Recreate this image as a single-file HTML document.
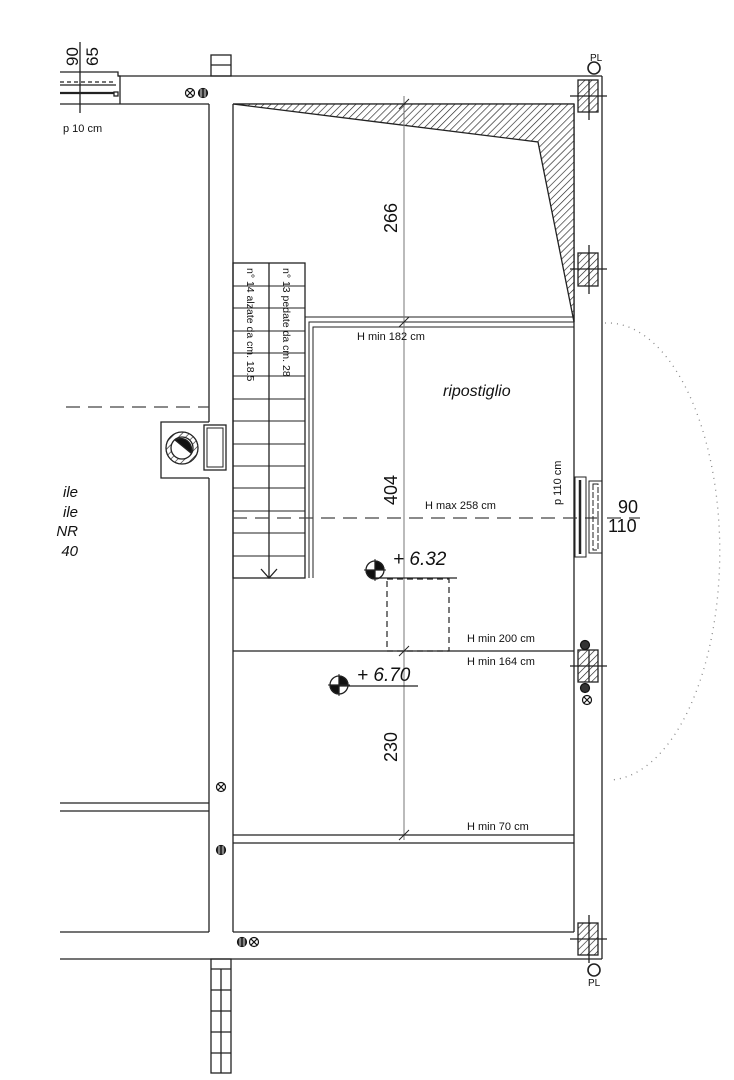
<!DOCTYPE html>
<html><head><meta charset="utf-8"><style>
html,body{margin:0;padding:0;background:#fff;}
svg{display:block;}
text{font-family:"Liberation Sans",sans-serif;fill:#111;}
</style></head><body>
<svg width="734" height="1080" viewBox="0 0 734 1080" xmlns="http://www.w3.org/2000/svg">
<defs>
<pattern id="h" width="5" height="5" patternUnits="userSpaceOnUse" patternTransform="rotate(45)">
<rect width="5" height="5" fill="#fff"/><line x1="0" y1="0" x2="0" y2="5" stroke="#222" stroke-width="1.3"/></pattern>
</defs>
<g stroke="#222" stroke-width="1.3" fill="none">
<line x1="118" y1="76" x2="602" y2="76"/>
<line x1="60" y1="104" x2="209" y2="104"/>
<line x1="233" y1="104" x2="574" y2="104"/>
<line x1="602" y1="76" x2="602" y2="959"/>
<line x1="574" y1="104" x2="574" y2="932"/>
<line x1="60" y1="932" x2="209" y2="932"/>
<line x1="233" y1="932" x2="574" y2="932"/>
<line x1="60" y1="959" x2="602" y2="959"/>
<line x1="209" y1="104" x2="209" y2="422"/>
<line x1="209" y1="478" x2="209" y2="932"/>
<line x1="233" y1="104" x2="233" y2="932"/>
<polyline points="60,72 118,72 118,76 120,76 120,104"/>
<line x1="60" y1="82" x2="116" y2="82" stroke-dasharray="4,3"/>
<line x1="60" y1="85" x2="116" y2="85"/>
<line x1="60" y1="93" x2="114" y2="93" stroke-width="2.2"/>
<rect x="114" y="92" width="4" height="4"/>
<line x1="80" y1="42" x2="80" y2="113"/>
<rect x="211" y="55" width="20" height="21"/>
<line x1="211" y1="65" x2="231" y2="65"/>
<polygon points="233,104 574,104 574,322 538,142" fill="url(#h)"/>
<rect x="578" y="80" width="20" height="32" fill="url(#h)"/>
<line x1="570" y1="96" x2="607" y2="96"/><line x1="589" y1="80" x2="589" y2="120"/>
<rect x="578" y="253" width="20" height="33" fill="url(#h)"/>
<line x1="570" y1="269" x2="607" y2="269"/><line x1="589" y1="245" x2="589" y2="294"/>
<rect x="578" y="650" width="20" height="32" fill="url(#h)"/>
<line x1="570" y1="666" x2="607" y2="666"/><line x1="589" y1="650" x2="589" y2="682"/>
<rect x="578" y="923" width="20" height="32" fill="url(#h)"/>
<line x1="570" y1="939" x2="607" y2="939"/><line x1="589" y1="915" x2="589" y2="963"/>
<circle cx="594" cy="68" r="6" stroke-width="1.6"/>
<circle cx="594" cy="970" r="6" stroke-width="1.6"/>
<rect x="233" y="263" width="72" height="315"/>
<line x1="269" y1="263" x2="269" y2="578"/>
<polyline points="261,569 269,578 277,569"/>
<g stroke-width="1">
<line x1="233" y1="286" x2="305" y2="286"/><line x1="233" y1="308" x2="305" y2="308"/>
<line x1="233" y1="331" x2="305" y2="331"/><line x1="233" y1="353" x2="305" y2="353"/>
<line x1="233" y1="376" x2="305" y2="376"/><line x1="233" y1="399" x2="305" y2="399"/>
<line x1="233" y1="421" x2="305" y2="421"/><line x1="233" y1="444" x2="305" y2="444"/>
<line x1="233" y1="466" x2="305" y2="466"/><line x1="233" y1="488" x2="305" y2="488"/>
<line x1="233" y1="511" x2="305" y2="511"/><line x1="233" y1="533" x2="305" y2="533"/>
<line x1="233" y1="556" x2="305" y2="556"/>
</g>
<polyline points="305,578 305,317 574,317" stroke-width="1"/>
<polyline points="309,578 309,322 574,322" stroke-width="1"/>
<polyline points="313,578 313,327 574,327" stroke-width="1"/>
<line x1="404" y1="96" x2="404" y2="840" stroke="#777" stroke-width="1"/>
<line x1="399" y1="109" x2="409" y2="99" stroke-width="1"/>
<line x1="399" y1="327" x2="409" y2="317" stroke-width="1"/>
<line x1="399" y1="656" x2="409" y2="646" stroke-width="1"/>
<line x1="399" y1="840" x2="409" y2="830" stroke-width="1"/>
<line x1="66" y1="407" x2="209" y2="407" stroke="#444" stroke-dasharray="14,8"/>
<line x1="233" y1="518" x2="640" y2="518" stroke="#444" stroke-dasharray="14,8"/>
<rect x="575" y="477" width="11" height="80" stroke-width="1"/>
<line x1="580" y1="480" x2="580" y2="554" stroke-width="2.5"/>
<rect x="589" y="481" width="13" height="72" stroke-width="1"/>
<rect x="593" y="484" width="5" height="66" stroke-width="1" stroke-dasharray="6,2"/>
<path d="M605,323 A112,228 0 0 1 610,780" stroke="#888" stroke-width="1.3" stroke-dasharray="1,5"/>
<polyline points="209,422 161,422 161,478 209,478" />
<circle cx="182" cy="448" r="16" fill="url(#h)"/>
<circle cx="182" cy="448" r="11" fill="#fff"/>
<path d="M175,440 A11,11 0 0 1 191,453 Z" fill="#111"/>
<rect x="204" y="425" width="22" height="45"/>
<rect x="207" y="428" width="16" height="39" stroke-width="1"/>
<line x1="233" y1="651" x2="574" y2="651"/>
<line x1="233" y1="835" x2="574" y2="835"/>
<line x1="233" y1="843" x2="574" y2="843"/>
<line x1="60" y1="803" x2="209" y2="803"/>
<line x1="60" y1="811" x2="209" y2="811"/>
<rect x="387" y="579" width="62" height="72" stroke-dasharray="6,4" stroke-width="1.2"/>
<circle cx="375" cy="570" r="9"/>
<path d="M375,570 L375,561 A9,9 0 0 1 384,570 Z M375,570 L366,570 A9,9 0 0 0 375,579 Z" fill="#111"/>
<line x1="364" y1="570" x2="386" y2="570" stroke-width="1"/><line x1="375" y1="559" x2="375" y2="581" stroke-width="1"/>
<line x1="375" y1="578" x2="457" y2="578"/>
<circle cx="339" cy="685" r="9"/>
<path d="M339,685 L339,676 A9,9 0 0 1 348,685 Z M339,685 L330,685 A9,9 0 0 0 339,694 Z" fill="#111"/>
<line x1="328" y1="685" x2="350" y2="685" stroke-width="1"/><line x1="339" y1="674" x2="339" y2="696" stroke-width="1"/>
<line x1="339" y1="686" x2="418" y2="686"/>
<rect x="211" y="959" width="20" height="114"/>
<line x1="221" y1="969" x2="221" y2="1073"/>
<line x1="211" y1="969" x2="231" y2="969"/><line x1="211" y1="990" x2="231" y2="990"/>
<line x1="211" y1="1011" x2="231" y2="1011"/><line x1="211" y1="1032" x2="231" y2="1032"/>
<line x1="211" y1="1053" x2="231" y2="1053"/>
</g>
<g stroke="#111" stroke-width="1.2" fill="#fff">
<circle cx="190" cy="93" r="4.5"/><path d="M187,90 L193,96 M193,90 L187,96"/>
<circle cx="203" cy="93" r="4.5" fill="#333"/><path d="M201,89 V97 M205,89 V97" stroke="#fff" stroke-width="0.8"/>
<circle cx="221" cy="787" r="4.5"/><path d="M218,784 L224,790 M224,784 L218,790"/>
<circle cx="221" cy="850" r="4.5" fill="#333"/><path d="M219,846 V854 M223,846 V854" stroke="#fff" stroke-width="0.8"/>
<circle cx="242" cy="942" r="4.5" fill="#333"/><path d="M240,938 V946 M244,938 V946" stroke="#fff" stroke-width="0.8"/>
<circle cx="254" cy="942" r="4.5"/><path d="M251,939 L257,945 M257,939 L251,945"/>
<circle cx="585" cy="645" r="4.5" fill="#333"/>
<circle cx="585" cy="688" r="4.5" fill="#333"/>
<circle cx="587" cy="700" r="4.5"/><path d="M584,697 L590,703 M590,697 L584,703"/>
</g>
<text transform="translate(78,66) rotate(-90)" font-size="17">90</text>
<text transform="translate(98,66) rotate(-90)" font-size="17">65</text>
<text x="63" y="132" font-size="11">p  10  cm</text>
<text x="590" y="61" font-size="10">PL</text>
<text x="588" y="986" font-size="10">PL</text>
<text transform="translate(397,233) rotate(-90)" font-size="18">266</text>
<text transform="translate(397,505) rotate(-90)" font-size="18">404</text>
<text transform="translate(397,762) rotate(-90)" font-size="18">230</text>
<text x="357" y="340" font-size="11">H  min  182  cm</text>
<text x="443" y="396" font-size="16" font-style="italic">ripostiglio</text>
<text x="425" y="509" font-size="11">H  max  258  cm</text>
<text transform="translate(561,505) rotate(-90)" font-size="11">p  110  cm</text>
<text x="618" y="513" font-size="18">90</text>
<text x="608" y="532" font-size="18">110</text>
<text x="393" y="565" font-size="19" font-style="italic">+ 6.32</text>
<text x="357" y="681" font-size="19" font-style="italic">+ 6.70</text>
<text x="467" y="642" font-size="11">H  min  200  cm</text>
<text x="467" y="665" font-size="11">H  min  164  cm</text>
<text x="467" y="830" font-size="11">H  min  70  cm</text>
<g font-size="15" font-style="italic" text-anchor="end">
<text x="78" y="497">ile</text><text x="78" y="517">ile</text><text x="78" y="536">NR</text><text x="78" y="556">40</text>
</g>
<text transform="translate(283,268) rotate(90)" font-size="10.5">n°  13  pedate  da  cm.  28</text>
<text transform="translate(247,268) rotate(90)" font-size="10.5">n°  14  alzate  da  cm.  18.5</text>
</svg>
</body></html>
